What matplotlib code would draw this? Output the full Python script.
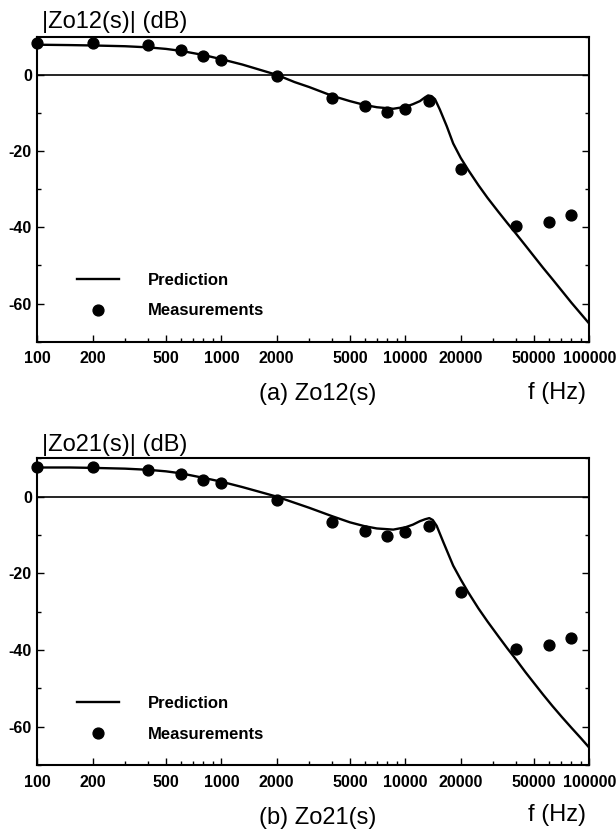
import matplotlib
matplotlib.use("Agg")
import matplotlib.pyplot as plt
from matplotlib.lines import Line2D
from matplotlib.ticker import FixedLocator, LogLocator, NullFormatter

plt.rcParams['font.family'] = ['Liberation Sans', 'DejaVu Sans']

# measured points (Hz, dB)
meas_f = [100, 200, 400, 600, 800, 1000, 2000, 4000, 6000, 8000, 10000, 13500, 20000, 40000, 60000, 80000]
meas_zo12 = [8.4, 8.4, 7.7, 6.4, 5.0, 4.0, -0.2, -6.0, -8.3, -9.7, -8.9, -6.9, -24.8, -39.6, -38.6, -36.8]
meas_zo21 = [7.7, 7.7, 7.0, 5.8, 4.4, 3.6, -0.9, -6.7, -8.9, -10.2, -9.3, -7.6, -24.8, -39.8, -38.7, -36.9]

# predicted curves
pred_f12 = [100, 150, 200, 300, 400, 500, 600, 800, 1000, 1300, 1600, 2000, 2500, 3000, 4000, 5000,
            6000, 7000, 8600, 10000, 11000, 12000, 12800, 13300, 13900, 14500, 15400, 16800, 18200,
            20000, 22000, 25000, 28000, 32000, 36000, 40000, 45000, 50000, 56000, 63000, 71000,
            80000, 90000, 100000]
pred_zo12 = [7.9, 7.8, 7.7, 7.5, 7.2, 6.8, 6.3, 5.2, 4.1, 2.7, 1.4, 0.0, -1.9, -3.2, -5.5, -6.9,
             -7.9, -8.5, -8.9, -8.4, -7.7, -6.9, -5.9, -5.4, -5.6, -6.4, -9.1, -13.5, -18.0,
             -21.8, -25.0, -29.0, -32.3, -35.9, -39.0, -41.7, -44.8, -47.6, -50.6, -53.6, -56.7,
             -59.8, -62.7, -65.3]

pred_f21 = [100, 150, 200, 300, 400, 500, 600, 800, 1000, 1300, 1600, 2000, 2500, 3000, 4000, 5000,
            6000, 7000, 8600, 10000, 11000, 12000, 12800, 13500, 14100, 14800, 16100, 18200, 20000,
            22000, 25000, 28000, 32000, 36000, 40000, 45000, 50000, 56000, 63000, 71000, 80000,
            90000, 100000]
pred_zo21 = [7.6, 7.6, 7.5, 7.3, 7.0, 6.6, 6.1, 4.9, 3.9, 2.5, 1.3, 0.0, -1.6, -2.9, -5.1, -6.7,
             -7.7, -8.3, -8.6, -8.0, -7.3, -6.4, -5.9, -5.6, -6.1, -7.6, -11.9, -18.0, -21.6,
             -25.0, -29.2, -32.6, -36.4, -39.7, -42.5, -45.8, -48.6, -51.6, -54.6, -57.5, -60.3,
             -63.0, -65.5]

x_ticks = [100, 200, 500, 1000, 2000, 5000, 10000, 20000, 50000, 100000]
x_tick_labels = ['100', '200', '500', '1000', '2000', '5000', '10000', '20000', '50000', '100000']
y_ticks = [0, -20, -40, -60]
y_tick_labels = ['0', '-20', '-40', '-60']

fig = plt.figure(figsize=(6.16, 8.36), dpi=100)
ax1 = fig.add_axes([0.0606, 0.5913, 0.8961, 0.3648])
ax2 = fig.add_axes([0.0606, 0.0849, 0.8961, 0.3669])


def setup(ax, pf, pz, mz):
    ax.plot(pf, pz, color='black', lw=1.7)
    ax.plot(meas_f, mz, 'o', color='black', ms=7.8, clip_on=False)
    ax.axhline(0, color='black', lw=1.2)
    ax.set_xscale('log')
    ax.set_xlim(100, 100000)
    ax.set_ylim(-70, 10)
    ax.xaxis.set_major_locator(FixedLocator(x_ticks))
    ax.set_xticklabels(x_tick_labels)
    ax.xaxis.set_minor_locator(LogLocator(base=10, subs=(3, 4, 6, 7, 8, 9)))
    ax.xaxis.set_minor_formatter(NullFormatter())
    ax.set_yticks(y_ticks)
    ax.set_yticklabels(y_tick_labels)
    ax.set_yticks([10, -10, -30, -50, -70], minor=True)
    ax.tick_params(which='both', direction='in', right=True, width=1)
    ax.tick_params(which='major', length=5)
    ax.tick_params(which='minor', length=3)
    ax.tick_params(axis='x', pad=7)
    ax.tick_params(axis='y', pad=4)
    for lab in ax.get_xticklabels() + ax.get_yticklabels():
        lab.set_fontsize(11.5)
        lab.set_fontweight('bold')
    for s in ax.spines.values():
        s.set_linewidth(1.5)
    handles = [Line2D([], [], color='black', lw=1.7),
               Line2D([], [], color='black', marker='o', ms=7.8, ls='none')]
    ax.legend(handles, ['Prediction', 'Measurements'], loc='lower left',
              bbox_to_anchor=(0.0725, 0.076), frameon=False, handlelength=2.5,
              handletextpad=1.75, labelspacing=0.95, borderpad=0, borderaxespad=0,
              prop={'weight': 'bold', 'size': 12})


setup(ax1, pred_f12, pred_zo12, meas_zo12)
setup(ax2, pred_f21, pred_zo21, meas_zo21)

fig.text(0.0688, 0.9661, '|Zo12(s)| (dB)', fontsize=17, va='baseline', ha='left')
fig.text(0.0688, 0.4609, '|Zo21(s)| (dB)', fontsize=17, va='baseline', ha='left')
fig.text(0.516, 0.5287, '(a) Zo12(s)', fontsize=17, va='center', ha='center')
fig.text(0.905, 0.5299, 'f (Hz)', fontsize=17, va='center', ha='center')
fig.text(0.516, 0.0215, '(b) Zo21(s)', fontsize=17, va='center', ha='center')
fig.text(0.905, 0.0251, 'f (Hz)', fontsize=17, va='center', ha='center')

fig.savefig('out.png', dpi=100)
